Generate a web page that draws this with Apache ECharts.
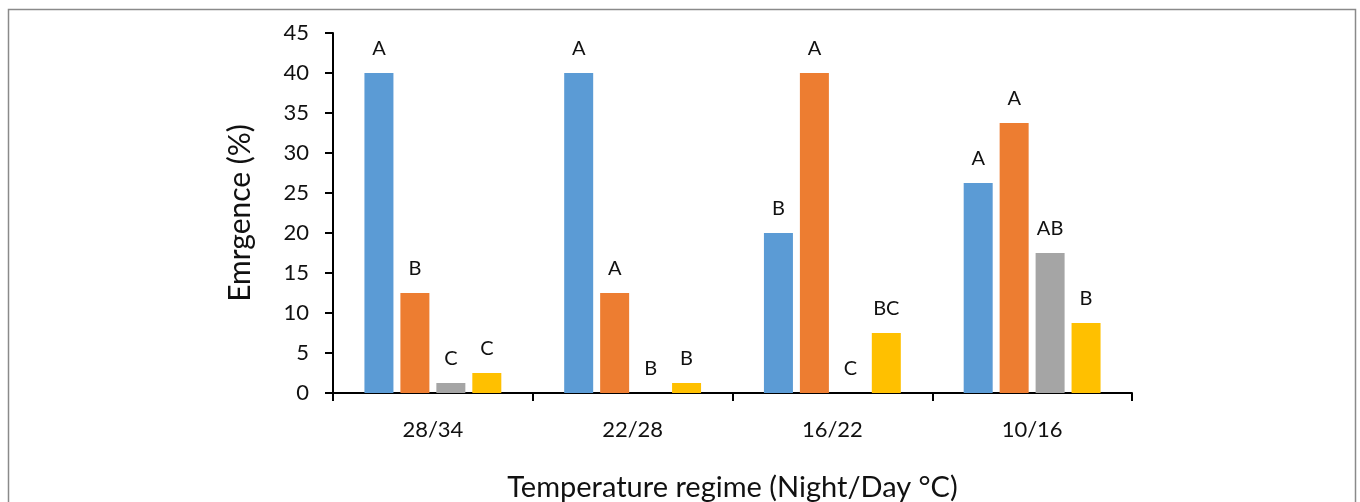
<!DOCTYPE html>
<html>
<head>
<meta charset="utf-8">
<script src="https://cdn.jsdelivr.net/npm/echarts@6/dist/echarts.min.js"></script>
<style>
html,body{margin:0;padding:0;background:#fff;}
#chart{width:1360px;height:502px;}
</style>
</head>
<body>
<div id="chart"></div>
<script>
const categories = ['28/34', '22/28', '16/22', '10/16'];
const seriesNames = ['Series 1', 'Series 2', 'Series 3', 'Series 4'];
const values1 = [40, 40, 20, 26.25];
const values2 = [12.5, 12.5, 40, 33.75];
const values3 = [1.25, 0, 0, 17.5];
const values4 = [2.5, 1.25, 7.5, 8.75];
const letters1 = ['A', 'A', 'B', 'A'];
const letters2 = ['B', 'A', 'A', 'A'];
const letters3 = ['C', 'B', 'C', 'AB'];
const letters4 = ['C', 'B', 'BC', 'B'];
const yTicks = [0, 5, 10, 15, 20, 25, 30, 35, 40, 45];

const allValues = [values1, values2, values3, values4];
const allLetters = [letters1, letters2, letters3, letters4];
const colors = ['#5B9BD5', '#ED7D31', '#A5A5A5', '#FFC000'];
const FONT = 'Lato, "Open Sans", sans-serif';

const chart = echarts.init(document.getElementById('chart'));
chart.setOption({
  animation: false,
  textStyle: { fontFamily: FONT },
  graphic: [{
    type: 'rect',
    shape: { x: 8.5, y: 9.5, width: 1347, height: 600 },
    style: { fill: 'none', stroke: '#8a8a8a', lineWidth: 1.5 },
    silent: true
  }],
  grid: { left: 333, right: 228, top: 33, bottom: 109, containLabel: false, outerBoundsMode: 'none' },
  xAxis: {
    type: 'category',
    data: categories,
    axisLine: { lineStyle: { color: '#000', width: 2 } },
    axisTick: { show: true, length: 8, lineStyle: { color: '#000', width: 2 } },
    axisLabel: { color: '#111', fontSize: 22, margin: 26, fontFamily: FONT },
    name: 'Temperature regime (Night/Day °C)',
    nameLocation: 'middle',
    nameGap: 80,
    nameTextStyle: { color: '#111', fontSize: 29, fontFamily: FONT }
  },
  yAxis: {
    type: 'value',
    min: yTicks[0],
    max: yTicks[yTicks.length - 1],
    interval: yTicks[1] - yTicks[0],
    axisLine: { show: true, lineStyle: { color: '#000', width: 2 } },
    axisTick: { show: true, length: 8, lineStyle: { color: '#000', width: 2 } },
    splitLine: { show: false },
    axisLabel: { color: '#111', fontSize: 22, margin: 24, fontFamily: FONT },
    name: 'Emrgence (%)',
    nameLocation: 'middle',
    nameGap: 78,
    nameTextStyle: { color: '#111', fontSize: 30, fontFamily: FONT }
  },
  series: allValues.map((vals, si) => ({
    name: seriesNames[si],
    type: 'bar',
    data: vals,
    barWidth: 29,
    barGap: '24%',
    itemStyle: { color: colors[si] },
    label: {
      show: true,
      position: 'top',
      distance: 14,
      color: '#111',
      fontSize: 20,
      fontFamily: FONT,
      formatter: p => allLetters[si][p.dataIndex]
    }
  }))
});
</script>
</body>
</html>
